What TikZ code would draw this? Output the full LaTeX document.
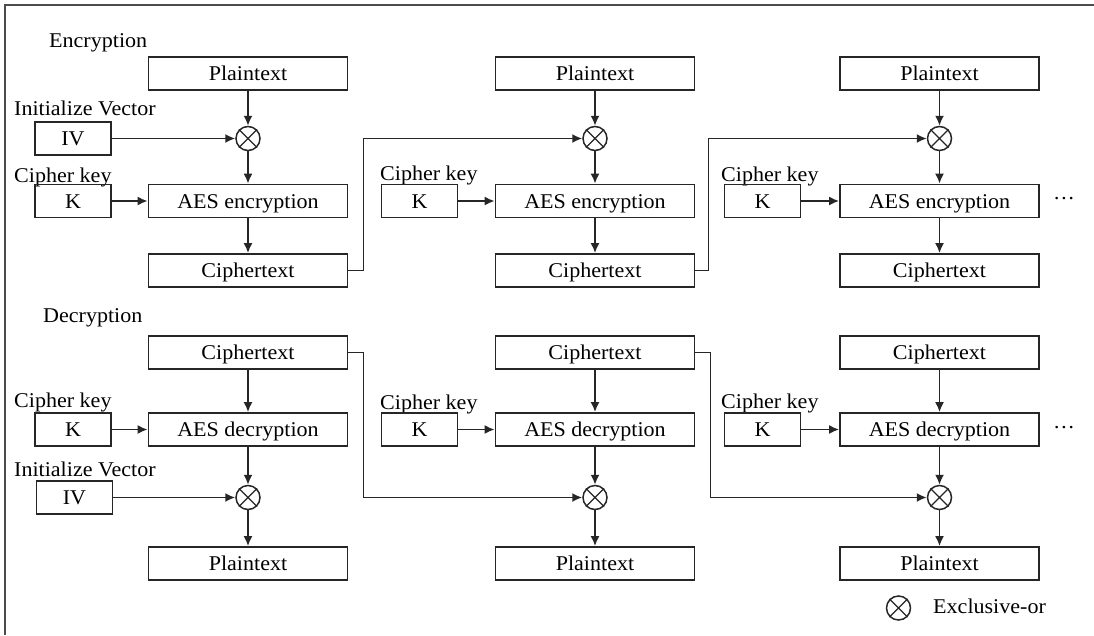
\documentclass[tikz,border=0pt]{standalone}
\usepackage{fontspec}
\setmainfont[FakeStretch=1.05]{Liberation Serif}
\usetikzlibrary{arrows.meta}
\newcommand\xorgate[2]{%
  \node[xorc] (#1) at #2 {};
  \draw[xline] (#1.north west) -- (#1.south east) (#1.north east) -- (#1.south west);}
\begin{document}
\begin{tikzpicture}[x=1pt,y=-1pt, font=\fontsize{21}{24}\selectfont,
  box/.style={draw=black!85, line width=1.8pt, minimum width=199pt, minimum height=33pt,
    inner sep=0pt, text height=14pt, text depth=0pt},
  kbox/.style={box, minimum width=76pt},
  xorc/.style={draw=black!85, line width=1.5pt, circle, minimum size=24pt, inner sep=0pt},
  xline/.style={draw=black!85, line width=1.3pt},
  arr/.style={draw=black!85, line width=1.7pt, -{Latex[length=10pt,width=9pt]}},
  lbl/.style={anchor=base west, inner sep=0pt},
]
\useasboundingbox (0,0) rectangle (1094,635);
\draw[black!70, line width=2pt] (5,635) -- (5,5) -- (1094,5);

% ---------- Encryption ----------
\node[lbl] (enc) at (49,47) {Encryption};
\node[lbl] (ivl1) at (14,115) {Initialize Vector};
\node[lbl] (ckl1) at (14,182) {Cipher key};
\node[lbl] (ckl2) at (380,180) {Cipher key};
\node[lbl] (ckl3) at (721,181) {Cipher key};

\node[box] (P1) at (248,73.5) {Plaintext};
\node[box] (P2) at (595,73.5) {Plaintext};
\node[box] (P3) at (939.5,73.5) {Plaintext};
\xorgate{X1}{(248,138.5)}
\xorgate{X2}{(595,138.5)}
\xorgate{X3}{(939.5,138.5)}
\node[box] (A1) at (248,201) {AES encryption};
\node[box] (A2) at (595,201) {AES encryption};
\node[box] (A3) at (939.5,201) {AES encryption};
\node[box] (C1) at (248,270.5) {Ciphertext};
\node[box] (C2) at (595,270.5) {Ciphertext};
\node[box] (C3) at (939.5,270.5) {Ciphertext};
\node[kbox] (IV1) at (73,138.5) {IV};
\node[kbox] (K1) at (73,201) {K};
\node[kbox] (K2) at (419.5,201) {K};
\node[kbox] (K3) at (762.5,201) {K};
\node (dots1) at (1064,201) {\textperiodcentered\textperiodcentered\textperiodcentered};

\foreach \i in {1,2,3}{
  \draw[arr] (P\i.south) -- (X\i.north);
  \draw[arr] (X\i.south) -- (A\i.north);
  \draw[arr] (A\i.south) -- (C\i.north);
  \draw[arr] (K\i.east) -- (A\i.west);
}
\draw[arr] (IV1.east) -- (X1.west);
\draw[arr] (C1.east) -- ++(15,0) |- (X2.west);
\draw[arr] (C2.east) -- ++(13,0) |- (X3.west);

% ---------- Decryption ----------
\node[lbl] (dec) at (43,322) {Decryption};
\node[lbl] (dckl1) at (14,407) {Cipher key};
\node[lbl] (dckl2) at (380,409) {Cipher key};
\node[lbl] (dckl3) at (721,408) {Cipher key};
\node[lbl] (divl1) at (14,476) {Initialize Vector};

\node[box] (DC1) at (248,352.5) {Ciphertext};
\node[box] (DC2) at (595,352.5) {Ciphertext};
\node[box] (DC3) at (939.5,352.5) {Ciphertext};
\node[box] (DA1) at (248,429.5) {AES decryption};
\node[box] (DA2) at (595,429.5) {AES decryption};
\node[box] (DA3) at (939.5,429.5) {AES decryption};
\xorgate{DX1}{(248,497.5)}
\xorgate{DX2}{(595,497.5)}
\xorgate{DX3}{(939.5,497.5)}
\node[box] (DP1) at (248,563.5) {Plaintext};
\node[box] (DP2) at (595,563.5) {Plaintext};
\node[box] (DP3) at (939.5,563.5) {Plaintext};
\node[kbox] (DK1) at (73,429.5) {K};
\node[kbox] (DK2) at (419.5,429.5) {K};
\node[kbox] (DK3) at (762.5,429.5) {K};
\node[kbox] (DIV1) at (74.5,497.5) {IV};
\node (dots2) at (1064,430) {\textperiodcentered\textperiodcentered\textperiodcentered};

\foreach \i in {1,2,3}{
  \draw[arr] (DC\i.south) -- (DA\i.north);
  \draw[arr] (DA\i.south) -- (DX\i.north);
  \draw[arr] (DX\i.south) -- (DP\i.north);
  \draw[arr] (DK\i.east) -- (DA\i.west);
}
\draw[arr] (DIV1.east) -- (DX1.west);
\draw[arr] (DC1.east) -- ++(15,0) |- (DX2.west);
\draw[arr] (DC2.east) -- ++(15,0) |- (DX3.west);

% ---------- Legend ----------
\xorgate{LX}{(898.5,608)}
\node[lbl] (legend) at (933,613) {Exclusive-or};
\end{tikzpicture}
\end{document}
